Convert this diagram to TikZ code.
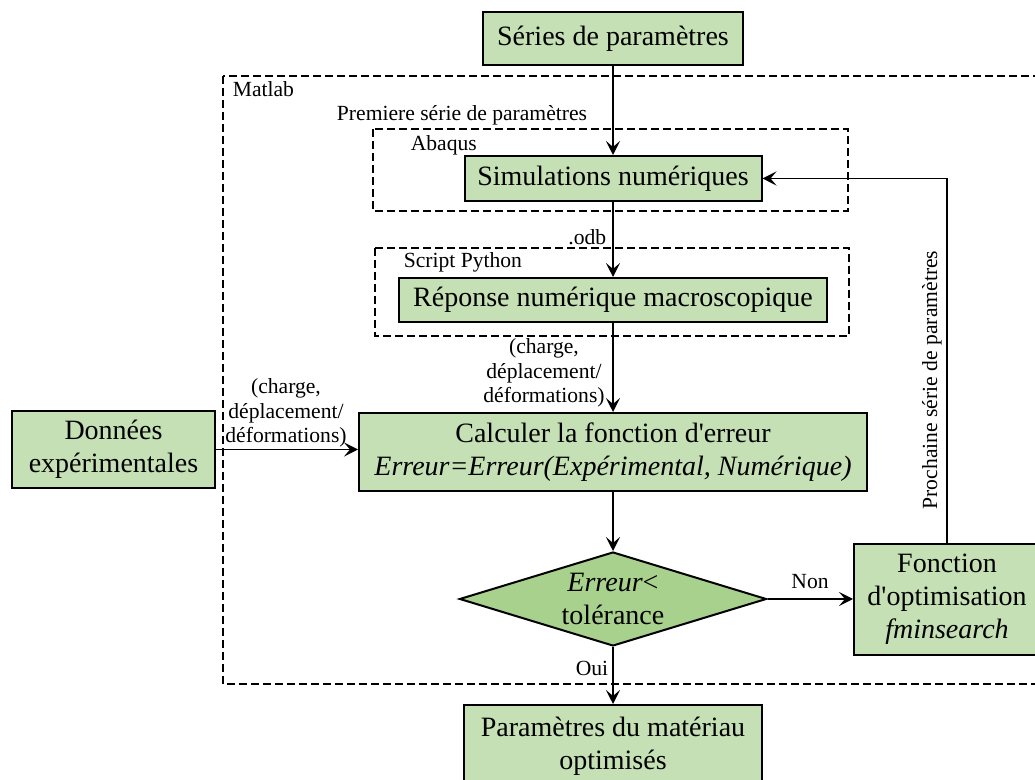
\documentclass[tikz,border=0pt]{standalone}
\usepackage{fontspec}
\setmainfont{Liberation Serif}
\usepackage{xcolor}
\usetikzlibrary{arrows.meta, calc, shapes.geometric}
\definecolor{boxgreen}{HTML}{C5E0B4}
\definecolor{testgreen}{HTML}{A9D18E}

\begin{document}
\begin{tikzpicture}[x=0.5pt, y=-0.5pt, >={Stealth[length=7pt, width=7pt, inset=3pt]}, line width=0.8pt,
  every node/.style={font=\fontsize{10.8}{12.3}\selectfont, inner sep=0pt},
  blk/.style={draw, line width=1pt, fill=boxgreen, align=center, font=\fontsize{14}{16.5}\selectfont},
  grp/.style={draw, line width=0.75pt, dash pattern=on 4pt off 2pt}]
  \useasboundingbox (0,0) rectangle (1035,780);
  \draw[grp] (223,76) rectangle (1050,684);
  \draw[grp] (373,129) rectangle (848,211);
  \draw[grp] (375,248) rectangle (849,336);
  \node[blk, minimum width=130pt, minimum height=26.5pt] (series) at (613,38.5) {Séries de paramètres};
  \node[blk, minimum width=148.5pt, minimum height=22.5pt] (sim) at (613,178.5) {Simulations numériques};
  \node[blk, minimum width=214pt, minimum height=22pt] (rep) at (613,300) {Réponse numérique macroscopique};
  \node[blk, minimum width=254pt, minimum height=39pt] (calc) at (613,452) {Calculer la fonction d\textquotesingle erreur\\\textit{Erreur=Erreur(Expérimental, Numérique)}};
  \node[blk, minimum width=101.5pt, minimum height=38.5pt] (donnees) at (113.5,449.5) {Données\\expérimentales};
  \node[blk, diamond, fill=testgreen, minimum width=153.5pt, minimum height=47pt, label={[align=center, font=\fontsize{14}{16.5}\selectfont]center:{\textit{Erreur}<\\tolérance}}] (test) at (613,599) {};
  \node[blk, minimum width=93pt, minimum height=55.5pt] (optim) at (947,599.5) {Fonction\\d\textquotesingle optimisation\\\textit{fminsearch}};
  \node[blk, minimum width=149pt, minimum height=41pt] (param) at (613,746) {Paramètres du matériau\\optimisés};
  \node[anchor=west] (matlab) at (232,89) {Matlab};
  \node (premiere) at (462,115) {Premiere série de paramètres};
  \node[anchor=west] (abaqus) at (410,145) {Abaqus};
  \node[anchor=east] (odb) at (607,237) {.odb};
  \node[anchor=west] (python) at (403,262) {Script Python};
  \node[align=center] (sortie) at (544,373) {(charge,\\déplacement/\\déformations)};
  \node[align=center] (essai) at (286,413) {(charge,\\déplacement/\\déformations)};
  \node[rotate=90] (prochaine) at (932,380) {Prochaine série de paramètres};
  \node (non) at (810,582) {Non};
  \node (oui) at (592,668) {Oui};
  \draw[->] (series) -- (sim);
  \draw[->] (sim) -- (rep);
  \draw[->] (rep) -- (calc);
  \draw[->] (donnees.east) -- (donnees.east -| calc.west);
  \draw[->] (calc) -- (test);
  \draw[->] (test.east) -- (test.east -| optim.west);
  \draw[->] (test) -- (param);
  \draw[->] (optim.north) |- (sim.east);
\end{tikzpicture}
\end{document}
